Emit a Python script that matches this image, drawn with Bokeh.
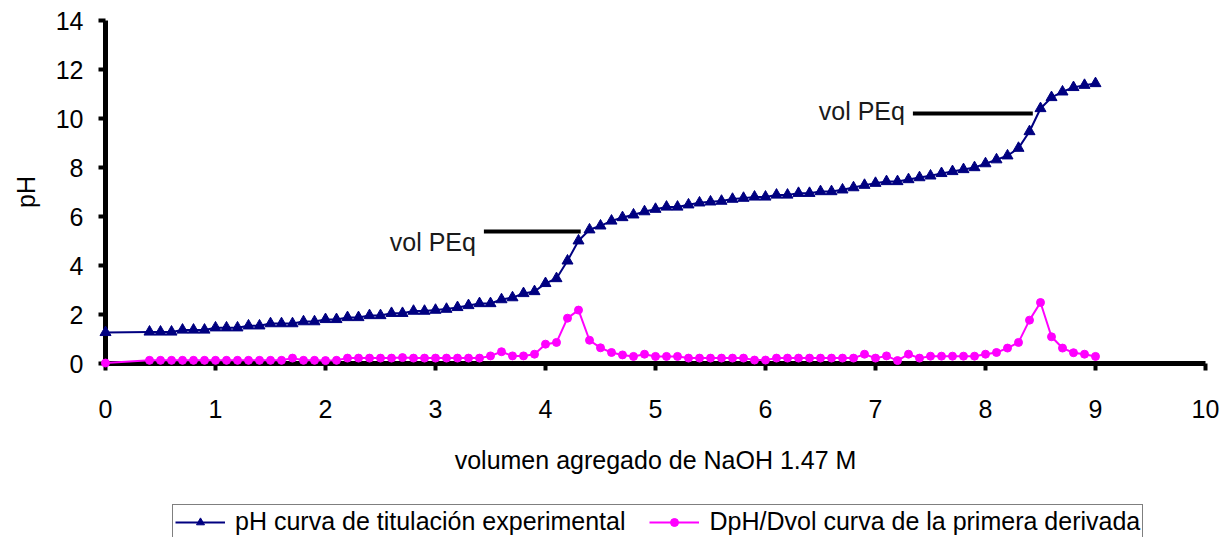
from bokeh.plotting import figure
from bokeh.layouts import column
from bokeh.models import Legend, LegendItem, FixedTicker, ColumnDataSource
from bokeh.core.properties import value
from bokeh.embed import file_html
from bokeh.resources import INLINE

FONT = "Liberation Sans"

# volume of NaOH added (mL)
volumen = [0.0, 0.4, 0.5, 0.6, 0.7, 0.8, 0.9, 1.0, 1.1, 1.2, 1.3, 1.4, 1.5, 1.6, 1.7, 1.8, 1.9,
           2.0, 2.1, 2.2, 2.3, 2.4, 2.5, 2.6, 2.7, 2.8, 2.9, 3.0, 3.1, 3.2, 3.3, 3.4, 3.5, 3.6,
           3.7, 3.8, 3.9, 4.0, 4.1, 4.2, 4.3, 4.4, 4.5, 4.6, 4.7, 4.8, 4.9, 5.0, 5.1, 5.2, 5.3,
           5.4, 5.5, 5.6, 5.7, 5.8, 5.9, 6.0, 6.1, 6.2, 6.3, 6.4, 6.5, 6.6, 6.7, 6.8, 6.9, 7.0,
           7.1, 7.2, 7.3, 7.4, 7.5, 7.6, 7.7, 7.8, 7.9, 8.0, 8.1, 8.2, 8.3, 8.4, 8.5, 8.6, 8.7,
           8.8, 8.9, 9.0]

# pH titration curve (experimental)
ph = [1.27, 1.29, 1.29, 1.29, 1.37, 1.37, 1.37, 1.46, 1.46, 1.46, 1.54, 1.54, 1.63, 1.63, 1.63,
      1.71, 1.71, 1.80, 1.80, 1.88, 1.88, 1.96, 1.96, 2.05, 2.05, 2.14, 2.14, 2.18, 2.22, 2.29,
      2.37, 2.45, 2.45, 2.61, 2.69, 2.86, 2.94, 3.27, 3.47, 4.19, 5.01, 5.46, 5.62, 5.82, 5.96,
      6.07, 6.20, 6.30, 6.39, 6.39, 6.48, 6.56, 6.60, 6.63, 6.71, 6.75, 6.80, 6.80, 6.88, 6.88,
      6.95, 6.95, 7.02, 7.02, 7.09, 7.18, 7.28, 7.36, 7.43, 7.43, 7.51, 7.59, 7.66, 7.76, 7.84,
      7.92, 8.00, 8.16, 8.32, 8.48, 8.79, 9.47, 10.41, 10.86, 11.09, 11.27, 11.36, 11.43]

# first derivative DpH/Dvol
dph = [0.02, 0.13, 0.13, 0.13, 0.13, 0.13, 0.13, 0.13, 0.13, 0.13, 0.13, 0.13, 0.13, 0.13, 0.22,
       0.13, 0.13, 0.12, 0.13, 0.22, 0.22, 0.22, 0.22, 0.22, 0.24, 0.22, 0.22, 0.22, 0.22, 0.22,
       0.22, 0.22, 0.31, 0.48, 0.31, 0.31, 0.38, 0.79, 0.86, 1.85, 2.18, 0.95, 0.64, 0.45, 0.35,
       0.29, 0.38, 0.29, 0.29, 0.29, 0.22, 0.22, 0.22, 0.22, 0.22, 0.22, 0.14, 0.14, 0.22, 0.22,
       0.22, 0.22, 0.22, 0.22, 0.22, 0.22, 0.38, 0.22, 0.31, 0.12, 0.38, 0.22, 0.30, 0.30, 0.30,
       0.30, 0.30, 0.38, 0.45, 0.63, 0.86, 1.77, 2.49, 1.09, 0.63, 0.44, 0.38, 0.29]

x_ticks = [0, 1, 2, 3, 4, 5, 6, 7, 8, 9, 10]
y_ticks = [0, 2, 4, 6, 8, 10, 12, 14]

series_labels = ["pH curva de titulación experimental", "DpH/Dvol curva de la primera derivada"]
series_colors = ["#000080", "#FF00FF"]

# equivalence point annotations
peq_text = ["vol PEq", "vol PEq"]
peq_x0 = [3.44, 7.34]
peq_x1 = [4.32, 8.43]
peq_y = [5.39, 10.2]
peq_text_y = [4.95, 10.32]

src = ColumnDataSource(dict(x=volumen, ph=ph, dph=dph))

p = figure(width=1222, height=504, x_range=(0, 10), y_range=(0, 14),
           output_backend="svg", toolbar_location=None,
           min_border_left=105, min_border_right=17, min_border_top=20, min_border_bottom=141)
p.outline_line_color = None
p.xgrid.visible = False
p.ygrid.visible = False
p.background_fill_color = "white"
p.border_fill_color = "white"

for ax in (p.xaxis[0], p.yaxis[0]):
    ax.axis_line_width = 5
    ax.axis_line_color = "black"
    ax.major_tick_line_width = 4
    ax.major_tick_line_color = "black"
    ax.major_tick_in = 0
    ax.major_tick_out = 7
    ax.minor_tick_line_color = None
    ax.major_label_text_font = FONT
    ax.major_label_text_font_size = "25px"
    ax.major_label_text_color = "black"
    ax.axis_label_text_font = FONT
    ax.axis_label_text_font_size = "25px"
    ax.axis_label_text_font_style = "normal"
    ax.axis_label_text_color = "black"

p.xaxis.ticker = FixedTicker(ticks=x_ticks)
p.yaxis.ticker = FixedTicker(ticks=y_ticks)
p.xaxis.axis_label = "volumen agregado de NaOH 1.47 M"
p.yaxis.axis_label = "pH"
p.xaxis.major_label_standoff = 29
p.xaxis.axis_label_standoff = 25
p.yaxis.major_label_standoff = 15
p.yaxis.axis_label_standoff = 13

l1 = p.line("x", "ph", source=src, line_color=series_colors[0], line_width=2)
m1 = p.scatter("x", "ph", source=src, marker="triangle", size=11,
               fill_color=series_colors[0], line_color=series_colors[0])
l2 = p.line("x", "dph", source=src, line_color=series_colors[1], line_width=2)
m2 = p.scatter("x", "dph", source=src, marker="circle", size=8,
               fill_color=series_colors[1], line_color=series_colors[1])
for r in (l1, m1, l2, m2):
    r.level = "overlay"

p.segment(x0=peq_x0, y0=peq_y, x1=peq_x1, y1=peq_y, line_color="black", line_width=4)
p.text(x=peq_x0, y=peq_text_y, text=peq_text, text_align="right", text_baseline="middle",
       x_offset=-8, text_font=value(FONT), text_font_size="25px", text_color="#1a1a1a")

# legend strip below the chart
pl = figure(width=1222, height=33, x_range=(0, 1), y_range=(0, 1),
            output_backend="svg", toolbar_location=None,
            x_axis_location=None, y_axis_location=None,
            min_border_left=105, min_border_right=17, min_border_top=0, min_border_bottom=0)
pl.outline_line_color = None
pl.xgrid.visible = False
pl.ygrid.visible = False
d1 = pl.line([5, 6], [5, 6], line_color=series_colors[0], line_width=2)
e1 = pl.scatter([5], [5], marker="triangle", size=11, fill_color=series_colors[0], line_color=series_colors[0])
d2 = pl.line([5, 6], [5, 6], line_color=series_colors[1], line_width=2)
e2 = pl.scatter([5], [5], marker="circle", size=8, fill_color=series_colors[1], line_color=series_colors[1])

legend = Legend(items=[
    LegendItem(label=series_labels[0], renderers=[d1, e1]),
    LegendItem(label=series_labels[1], renderers=[d2, e2]),
], orientation="horizontal", location=(67, -2))
legend.label_text_font = FONT
legend.label_text_font_size = "25px"
legend.label_text_color = "black"
legend.glyph_width = 50
legend.glyph_height = 20
legend.border_line_color = "black"
legend.border_line_width = 1.5
legend.background_fill_alpha = 1
legend.padding = 2
legend.spacing = 24
legend.margin = 0
legend.label_standoff = 10
pl.add_layout(legend, "center")

layout = column(p, pl, spacing=0)
open("out.html", "w").write(file_html(layout, INLINE))
